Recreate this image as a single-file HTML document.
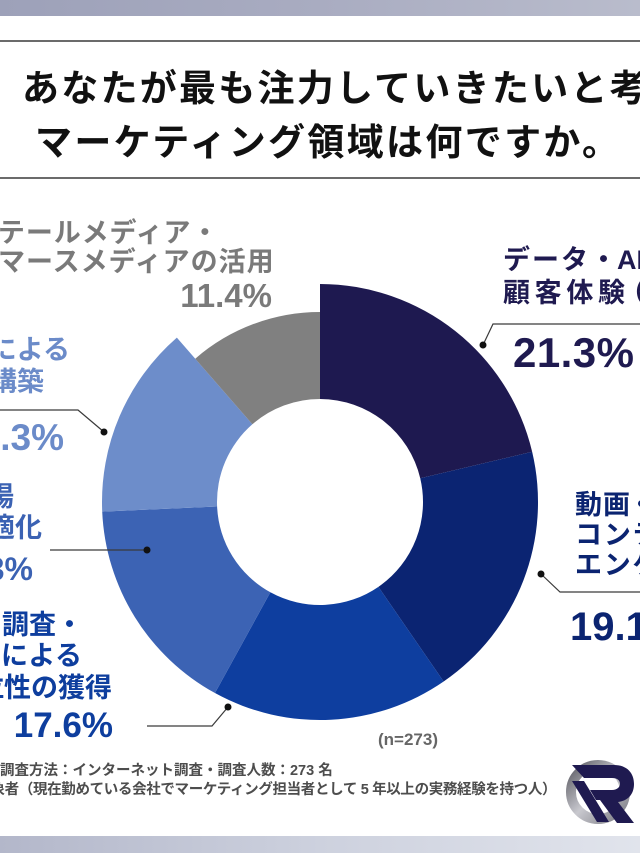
<!DOCTYPE html>
<html>
<head>
<meta charset="utf-8">
<style>
  html,body{margin:0;padding:0;background:#fff;}
  body{width:640px;height:853px;overflow:hidden;}
  svg{display:block;}
  text{font-family:"Liberation Sans","Noto Sans CJK JP",sans-serif;font-weight:700;}
</style>
</head>
<body>
<svg width="640" height="853" viewBox="0 0 640 853" xmlns="http://www.w3.org/2000/svg">
  <defs>
    <linearGradient id="topbar" x1="0" y1="0" x2="1" y2="0">
      <stop offset="0" stop-color="#9da1b9"/>
      <stop offset="0.5" stop-color="#a9acc1"/>
      <stop offset="1" stop-color="#b9bccc"/>
    </linearGradient>
    <linearGradient id="botbar" x1="0" y1="0" x2="1" y2="0">
      <stop offset="0" stop-color="#b3b7ca"/>
      <stop offset="0.5" stop-color="#cdd1de"/>
      <stop offset="1" stop-color="#e1e4ec"/>
    </linearGradient>
    <linearGradient id="ring" x1="0" y1="0" x2="1" y2="1">
      <stop offset="0" stop-color="#5e5e66"/>
      <stop offset="0.5" stop-color="#c9c9cf"/>
      <stop offset="1" stop-color="#7d7d85"/>
    </linearGradient>
  </defs>

  <rect x="0" y="0" width="640" height="853" fill="#ffffff"/>
  <rect x="0" y="0" width="640" height="16" fill="url(#topbar)"/>
  <rect x="0" y="836" width="640" height="17" fill="url(#botbar)"/>

  <rect x="0" y="40" width="640" height="2" fill="#6b6b6b"/>
  <rect x="0" y="177" width="640" height="2" fill="#6b6b6b"/>

  <!-- title -->
  <text x="22" y="101" font-size="37" fill="#111" textLength="702" lengthAdjust="spacing">あなたが最も注力していきたいと考える</text>
  <text x="35" y="155" font-size="37" fill="#111" textLength="584" lengthAdjust="spacing">マーケティング領域は何ですか。</text>

  <!-- donut -->
  <path d="M320,284 A218,218 0 0 1 532.14,451.77 L420.23,478.27 A103,103 0 0 0 320,399 Z" fill="#1e1950"/>
  <path d="M532.14,451.77 A218,218 0 0 1 443.65,681.55 L378.42,586.83 A103,103 0 0 0 420.23,478.27 Z" fill="#0b2472"/>
  <path d="M443.65,681.55 A218,218 0 0 1 214.98,693.04 L270.38,592.26 A103,103 0 0 0 378.42,586.83 Z" fill="#0e3e9f"/>
  <path d="M214.98,693.04 A218,218 0 0 1 102.21,511.59 L217.10,506.53 A103,103 0 0 0 270.38,592.26 Z" fill="#3c63b4"/>
  <path d="M102.21,511.59 A218,218 0 0 1 176.85,337.58 L252.37,424.31 A103,103 0 0 0 217.10,506.53 Z" fill="#6d8dca"/>
  <path d="M195.24,358.69 A190,190 0 0 1 320,312 L320,399 A103,103 0 0 0 252.37,424.31 Z" fill="#808080"/>

  <!-- leader lines -->
  <g stroke="#3a3a3a" stroke-width="1.2" fill="none">
    <polyline points="483,345 493,324 640,324"/>
    <polyline points="541,574 560,592 640,592"/>
    <polyline points="228,707 212,726 147,726"/>
    <polyline points="147,550 50,550"/>
    <polyline points="104,432 78,410 0,410"/>
  </g>
  <g fill="#111">
    <circle cx="483" cy="345" r="3.5"/>
    <circle cx="541" cy="574" r="3.5"/>
    <circle cx="228" cy="707" r="3.5"/>
    <circle cx="147" cy="550" r="3.5"/>
    <circle cx="104" cy="432" r="3.5"/>
  </g>

  <!-- navy label -->
  <text x="503" y="269" font-size="27" fill="#1f1a50" textLength="114" lengthAdjust="spacing">データ・</text>
  <text x="617" y="269" font-size="27" fill="#1f1a50">AIを活用した</text>
  <text x="503" y="302" font-size="27" fill="#1f1a50" textLength="122" lengthAdjust="spacing">顧客体験</text>
  <text x="619" y="302" font-size="27" fill="#1f1a50">（CX）の向上</text>
  <text x="513" y="367" font-size="42" fill="#1f1a50" textLength="121" lengthAdjust="spacing">21.3%</text>

  <!-- dark blue label -->
  <text x="575" y="514" font-size="27" fill="#0b2471" textLength="55" lengthAdjust="spacing">動画</text>
  <text x="628" y="514" font-size="27" fill="#0b2471">・SNS</text>
  <text x="575" y="544" font-size="27" fill="#0b2471" textLength="228" lengthAdjust="spacing">コンテンツによる</text>
  <text x="575" y="574" font-size="27" fill="#0b2471" textLength="228" lengthAdjust="spacing">エンゲージメント</text>
  <text x="570" y="640" font-size="40" fill="#0b2471">19.1%</text>

  <!-- blue label -->
  <text x="-4" y="634" font-size="27" fill="#0e3e9e" text-anchor="end">市場</text>
  <text x="2" y="634" font-size="27" fill="#0e3e9e" textLength="81" lengthAdjust="spacing">調査・</text>
  <text x="-4" y="665" font-size="27" fill="#0e3e9e" text-anchor="end">データ分析</text>
  <text x="1" y="665" font-size="27" fill="#0e3e9e" textLength="81" lengthAdjust="spacing">による</text>
  <text x="4" y="697" font-size="27" fill="#0e3e9e" text-anchor="end">優位</text>
  <text x="4" y="697" font-size="27" fill="#0e3e9e" textLength="108" lengthAdjust="spacing">性の獲得</text>
  <text x="113" y="737" font-size="35" fill="#0e3e9e" text-anchor="end">17.6%</text>

  <!-- medium blue label -->
  <text x="14" y="506" font-size="27" fill="#3b62b3" text-anchor="end">営業現場</text>
  <text x="42" y="537" font-size="27" fill="#3b62b3" text-anchor="end">業務の最適化</text>
  <text x="33" y="580" font-size="32" fill="#3b62b3" text-anchor="end">16.3%</text>

  <!-- light blue label -->
  <text x="70" y="359" font-size="27" fill="#6b8bc9" text-anchor="end">CRMによる</text>
  <text x="44" y="391" font-size="27" fill="#6b8bc9" text-anchor="end">関係構築</text>
  <text x="64" y="450" font-size="37" fill="#6b8bc9" text-anchor="end">14.3%</text>

  <!-- gray label -->
  <text x="-30" y="242" font-size="27" fill="#7a7a7a" textLength="248.4" lengthAdjust="spacing">リテールメディア・</text>
  <text x="-30" y="271" font-size="27" fill="#7a7a7a" textLength="303.6" lengthAdjust="spacing">コマースメディアの活用</text>
  <text x="272" y="307" font-size="33" fill="#7a7a7a" text-anchor="end">11.4%</text>

  <!-- n -->
  <text x="378" y="745" font-size="17" fill="#666">(n=273)</text>

  <!-- footnote -->
  <text x="0" y="775" font-size="14.5" fill="#4d4d4d">調査方法：インターネット調査・調査人数：273 名</text>
  <text x="-9.5" y="794" font-size="14.5" fill="#4d4d4d" textLength="566" lengthAdjust="spacing">象者（現在勤めている会社でマーケティング担当者として 5 年以上の実務経験を持つ人）</text>

  <!-- logo -->
  <circle cx="598" cy="792" r="27" fill="none" stroke="url(#ring)" stroke-width="10"/>
  <path d="M572,765 H614 C627,765 634,773 634,784 C634,795 627,801 618,802 L634,823 H617 L600,800 H596 L590,790 H612 C617,790 620,787 620,784 C620,780 617,778 612,778 H584 Z" fill="#1f1a50"/>
  <polygon points="572,781 584,781 609,822 597,822" fill="#1f1a50"/>
</svg>
</body>
</html>
